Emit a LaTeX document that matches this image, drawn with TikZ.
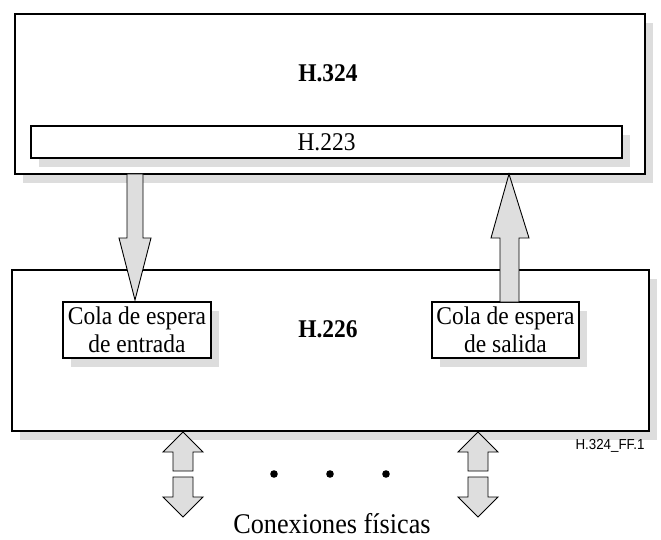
\documentclass[tikz,border=0pt]{standalone}
\usepackage{fontspec}
\setmainfont[FakeStretch=0.92]{Liberation Serif}
\newfontfamily\labelfont[FakeStretch=0.92]{Liberation Sans}
\usetikzlibrary{shadows}
\definecolor{shadowgray}{HTML}{DDDDDD}
\definecolor{arrowgray}{HTML}{DEDEDE}
\tikzset{
  boxstyle/.style={draw=black, line width=1.2pt, fill=white, inner sep=0pt,
    drop shadow={shadow xshift=8pt, shadow yshift=-9pt, fill=shadowgray, opacity=1}},
  blockarrow/.style={draw=black, line width=0.9pt, fill=arrowgray, line join=miter},
  maintext/.style={font=\fontsize{25.5}{28}\selectfont},
  boldtext/.style={font=\fontsize{25.5}{28}\selectfont\bfseries},
  dotstyle/.style={fill=black, draw=none}
}
\begin{document}
\begin{tikzpicture}[x=1pt,y=-1pt]
\useasboundingbox (0,0) rectangle (661,540);
% top box H.324
\node[boxstyle, minimum width=630pt, minimum height=160pt] (h324) at (330,94) {};
\node[boldtext] (h324t) at (328,73) {H.324};
\node[boxstyle, maintext, minimum width=591pt, minimum height=32pt] (h223) at (326.5,142) {H.223};
% bottom box H.226
\node[boxstyle, minimum width=637pt, minimum height=161pt] (h226) at (330.5,350.5) {};
\node[boldtext] (h226t) at (328,329) {H.226};
\node[boxstyle, maintext, align=center, minimum width=148pt, minimum height=56pt] (qin) at (137,330) {Cola de espera\\de entrada};
\node[boxstyle, maintext, align=center, minimum width=147pt, minimum height=56pt] (qout) at (505.5,330) {Cola de espera\\de salida};
% block arrows between H.324 and H.226
\draw[blockarrow] (127,174) -- (143,174) -- (143,238) -- (151,238) -- (135,300) -- (119,238) -- (127,238) -- cycle;
\draw[blockarrow] (500,302) -- (519,302) -- (519,238) -- (529,238) -- (509,174) -- (491,238) -- (500,238) -- cycle;
% physical connection arrows
\foreach \cx in {183,478} {
  \draw[blockarrow] (\cx-10,471) -- (\cx+10,471) -- (\cx+10,452) -- (\cx+20,452) -- (\cx,432) -- (\cx-20,452) -- (\cx-10,452) -- cycle;
  \draw[blockarrow] (\cx-10,477) -- (\cx+10,477) -- (\cx+10,497) -- (\cx+20,497) -- (\cx,517) -- (\cx-20,497) -- (\cx-10,497) -- cycle;
}
% dots
\fill[dotstyle] (274,474) circle (3.8pt);
\fill[dotstyle] (330,474) circle (3.8pt);
\fill[dotstyle] (386,474) circle (3.8pt);
\node[font=\fontsize{28.5}{30}\selectfont] (conex) at (332,524) {Conexiones físicas};
\node[font=\labelfont\fontsize{14.5}{16}\selectfont, anchor=east] (ref) at (648,446) {H.324\_FF.1};
\end{tikzpicture}
\end{document}
